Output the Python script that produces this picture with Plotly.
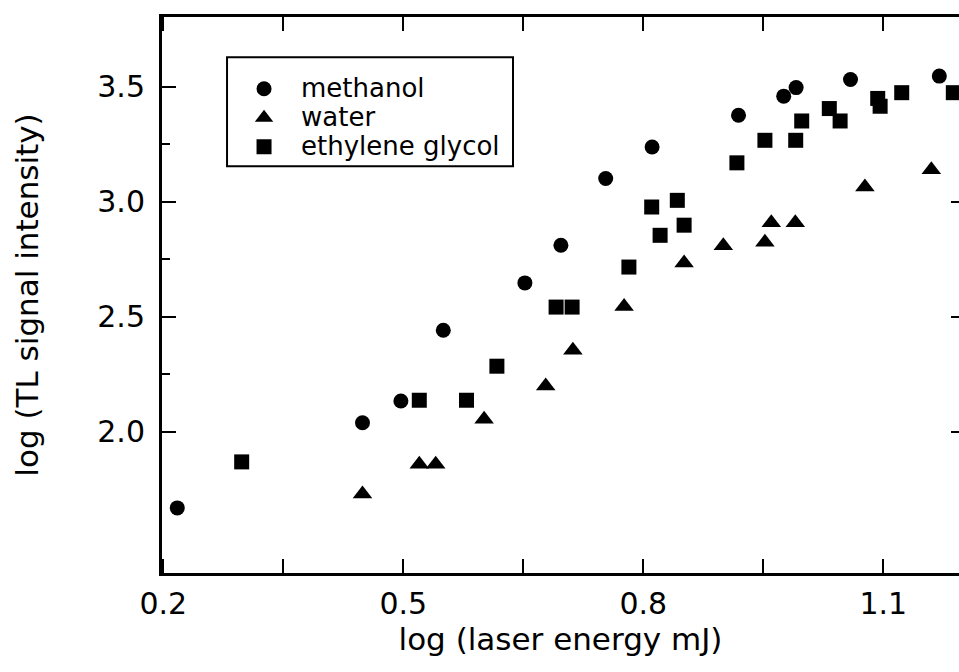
import plotly.graph_objects as go

# log(laser energy / mJ) vs log(TL signal intensity) for three solvents
methanol_x = [0.2175, 0.449, 0.497, 0.55, 0.652, 0.697, 0.753, 0.811, 0.919, 0.9755, 0.991, 1.059, 1.17]
methanol_y = [1.67, 2.04, 2.135, 2.442, 2.648, 2.812, 3.102, 3.239, 3.377, 3.46, 3.497, 3.532, 3.547]

water_x = [0.449, 0.52, 0.5405, 0.601, 0.678, 0.712, 0.776, 0.851, 0.90, 0.952, 0.96, 0.99, 1.077, 1.16]
water_y = [1.73, 1.86, 1.86, 2.055, 2.20, 2.355, 2.545, 2.735, 2.81, 2.825, 2.91, 2.91, 3.065, 3.14]

glycol_x = [0.298, 0.52, 0.579, 0.617, 0.691, 0.711, 0.782, 0.8105, 0.821, 0.8425, 0.851,
            0.917, 0.952, 0.9905, 0.998, 1.0325, 1.046, 1.093, 1.096, 1.123, 1.1875]
glycol_y = [1.87, 2.138, 2.138, 2.286, 2.543, 2.543, 2.717, 2.978, 2.855, 3.007, 2.899,
            3.17, 3.268, 3.268, 3.352, 3.406, 3.352, 3.45, 3.416, 3.475, 3.475]

x_ticks = [0.2, 0.5, 0.8, 1.1]
y_ticks = [2.0, 2.5, 3.0, 3.5]
y_minor = [2.25, 2.75, 3.25]

FONT = "DejaVu Sans"
INK = "black"


def legend_label(text):
    # larger glyphs than the legend's base size, which sets the row spacing
    return f'<span style="font-size:26px">{text}</span>'


fig = go.Figure()
fig.add_trace(go.Scatter(x=methanol_x, y=methanol_y, mode="markers", name=legend_label("methanol"),
                         marker=dict(symbol="circle", size=15, color=INK)))
fig.add_trace(go.Scatter(x=water_x, y=water_y, mode="markers", name=legend_label("water"),
                         marker=dict(symbol="triangle-up", size=17, color=INK)))
fig.add_trace(go.Scatter(x=glycol_x, y=glycol_y, mode="markers", name=legend_label("ethylene glycol"),
                         marker=dict(symbol="square", size=15, color=INK)))
# right-hand tick marks (frame edge falls just outside the page)
fig.add_trace(go.Scatter(x=[None], y=[None], yaxis="y2", showlegend=False, hoverinfo="skip"))

fig.update_layout(
    width=959, height=672,
    margin=dict(l=162, r=0, t=17, b=99),
    paper_bgcolor="white", plot_bgcolor="white",
    font=dict(family=FONT, color=INK),
    showlegend=True,
    legend=dict(
        x=0.0816, y=0.906, xanchor="left", yanchor="top",
        bgcolor="rgba(0,0,0,0)", borderwidth=0,
        font=dict(family=FONT, size=20, color=INK),
        itemwidth=64, tracegroupgap=0,
    ),
    # frame around the legend entries
    shapes=[dict(type="rect", xref="paper", yref="paper",
                 x0=0.0816, x1=0.4404, y0=0.7315, y1=0.9275,
                 line=dict(color=INK, width=2), fillcolor="white", layer="below")],
    xaxis=dict(
        range=[0.1984, 1.1946],
        tickmode="array", tickvals=x_ticks, ticktext=[f"{v:.1f}" for v in x_ticks],
        ticks="inside", ticklen=14, tickwidth=2, tickcolor=INK,
        minor=dict(dtick=0.15, tick0=0.2, ticks="inside", ticklen=8, tickwidth=2, tickcolor=INK),
        showline=True, linewidth=3, linecolor=INK, mirror="allticks",
        showgrid=False, zeroline=False,
        tickfont=dict(family=FONT, size=30, color=INK),
        ticklabelstandoff=2,
        title=dict(text="log (laser energy mJ)", font=dict(family=FONT, size=31, color=INK), standoff=4),
    ),
    yaxis=dict(
        range=[1.387, 3.804],
        tickmode="array", tickvals=y_ticks, ticktext=[f"{v:.1f}" for v in y_ticks],
        ticks="inside", ticklen=14, tickwidth=2, tickcolor=INK,
        minor=dict(tickmode="array", tickvals=y_minor, ticks="inside", ticklen=8, tickwidth=2, tickcolor=INK),
        showline=True, linewidth=3, linecolor=INK, mirror=False,
        showgrid=False, zeroline=False,
        tickfont=dict(family=FONT, size=30, color=INK),
        ticklabelstandoff=8,
        title=dict(text="log (TL signal intensity)", font=dict(family=FONT, size=31, color=INK), standoff=50),
    ),
    yaxis2=dict(
        overlaying="y", side="right", matches="y", anchor="x",
        tickmode="array", tickvals=y_ticks, showticklabels=False,
        ticks="inside", ticklen=8, tickwidth=2, tickcolor=INK,
        showline=False, showgrid=False, zeroline=False,
    ),
)

fig.write_html("out.html")
